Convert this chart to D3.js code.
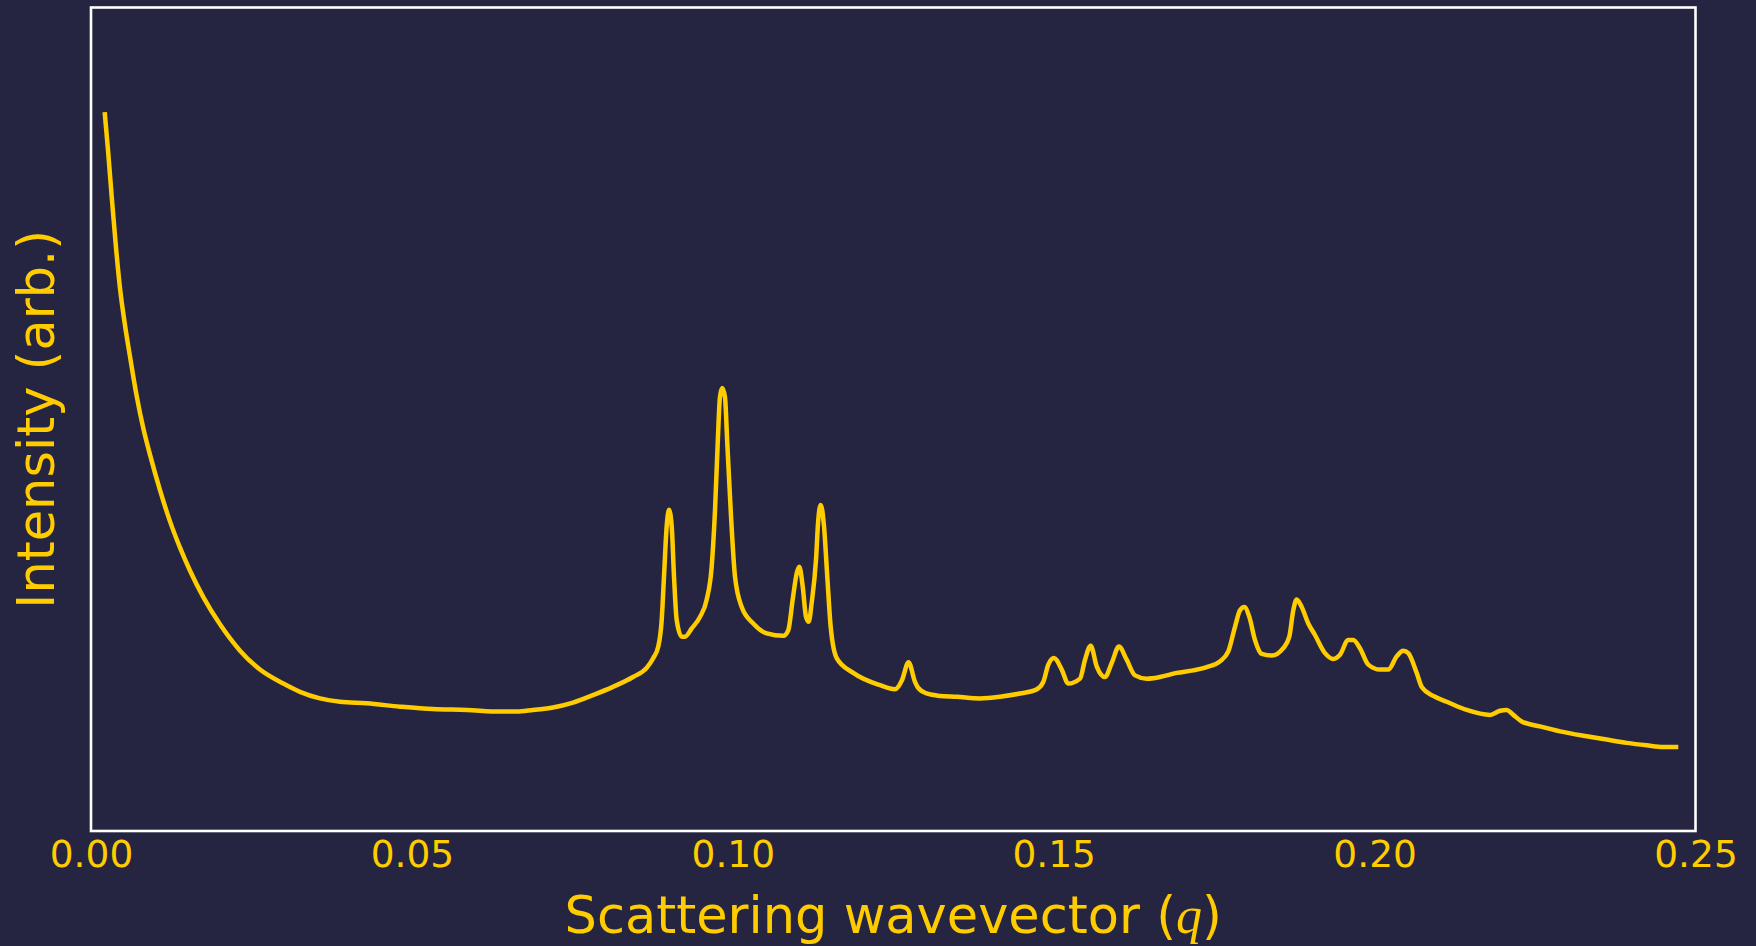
<!DOCTYPE html>
<html>
<head>
<meta charset="utf-8">
<script src="https://cdn.jsdelivr.net/npm/d3@7"></script>
<style>
  html, body { margin: 0; padding: 0; background: #252542; }
  svg { display: block; }
</style>
</head>
<body>
<svg id="chart" width="1756" height="946"></svg>
<script>
// Scattering wavevector q
const qValues = [
  0.00213, 0.00265, 0.00327, 0.00390, 0.00452, 0.00530, 0.00608, 0.00712, 0.00815, 0.00919,
  0.01075, 0.01231, 0.01387, 0.01543, 0.01750, 0.02010, 0.02322, 0.02633, 0.02996, 0.03256,
  0.03568, 0.03880, 0.04296, 0.04815, 0.05329, 0.05854, 0.06373, 0.06633, 0.06887, 0.07198,
  0.07510, 0.07822, 0.08133, 0.08445, 0.08658, 0.08761, 0.08839, 0.08892, 0.08928, 0.08970,
  0.09006, 0.09048, 0.09084, 0.09126, 0.09204, 0.09255, 0.09360, 0.09489, 0.09593, 0.09671,
  0.09723, 0.09765, 0.09800, 0.09836, 0.09878, 0.09914, 0.09967, 0.10034, 0.10139, 0.10319,
  0.10528, 0.10787, 0.10865, 0.10933, 0.10996, 0.11036, 0.11089, 0.11141, 0.11183, 0.11229,
  0.11296, 0.11332, 0.11370, 0.11421, 0.11472, 0.11525, 0.11619, 0.11877, 0.12294, 0.12527,
  0.12636, 0.12738, 0.12839, 0.12886, 0.13021, 0.13228, 0.13488, 0.13852, 0.14163, 0.14475,
  0.14735, 0.14838, 0.14916, 0.15005, 0.15125, 0.15227, 0.15410, 0.15488, 0.15576, 0.15670,
  0.15799, 0.15904, 0.16017, 0.16137, 0.16267, 0.16449, 0.16656, 0.16916, 0.17175, 0.17384,
  0.17591, 0.17720, 0.17825, 0.17903, 0.17970, 0.18048, 0.18136, 0.18241, 0.18397, 0.18577,
  0.18671, 0.18733, 0.18786, 0.18864, 0.18967, 0.19071, 0.19227, 0.19356, 0.19461, 0.19590,
  0.19668, 0.19772, 0.19902, 0.20084, 0.20213, 0.20344, 0.20447, 0.20525, 0.20656, 0.20734,
  0.20914, 0.21123, 0.21435, 0.21798, 0.21954, 0.22058, 0.22161, 0.22292, 0.22577, 0.22889,
  0.23305, 0.23616, 0.23928, 0.24240, 0.24498, 0.24732
];

// Intensity (arbitrary units)
const intensityValues = [
  87.3, 82.7, 76.6, 70.8, 65.9, 61.4, 57.6, 52.8, 48.9, 45.7,
  41.4, 37.6, 34.4, 31.6, 28.4, 25.1, 21.9, 19.6, 17.9, 16.9,
  16.1, 15.7, 15.5, 15.1, 14.8, 14.7, 14.5, 14.5, 14.7, 15.0,
  15.6, 16.5, 17.5, 18.7, 19.8, 21.0, 22.4, 25.6, 30.9, 37.0,
  39.0, 37.0, 30.9, 25.6, 23.6, 23.6, 24.6, 26.0, 28.1, 32.1,
  39.0, 47.1, 52.7, 53.8, 52.7, 47.1, 39.0, 30.9, 27.2, 25.2,
  24.0, 23.7, 24.4, 28.1, 31.3, 32.1, 29.7, 26.0, 25.4, 27.7,
  32.9, 37.8, 39.6, 37.0, 30.9, 24.8, 21.0, 19.2, 17.7, 17.2,
  18.3, 20.5, 18.1, 17.4, 16.7, 16.4, 16.3, 16.1, 16.3, 16.7,
  17.2, 18.1, 20.2, 21.0, 19.6, 17.9, 18.5, 20.8, 22.5, 20.0,
  18.7, 20.4, 22.4, 20.8, 18.9, 18.5, 18.7, 19.2, 19.5, 19.9,
  20.6, 21.8, 24.8, 26.8, 27.2, 26.0, 23.2, 21.5, 21.3, 22.2,
  23.6, 26.8, 28.1, 27.2, 25.2, 23.8, 21.6, 20.9, 21.4, 23.2,
  23.2, 22.2, 20.2, 19.6, 19.6, 21.2, 21.9, 21.6, 19.2, 17.5,
  16.4, 15.7, 14.7, 14.1, 14.6, 14.7, 14.1, 13.3, 12.7, 12.1,
  11.5, 11.1, 10.7, 10.4, 10.2, 10.2
];

const xTickValues = [0, 0.05, 0.10, 0.15, 0.20, 0.25];
const xLabelText = "Scattering wavevector (";
const xLabelMath = "q";
const yLabelText = "Intensity (arb.)";

(function () {
  const data = qValues.map((q, i) => ({ q, v: intensityValues[i] }));

  const svg = d3.select("#chart");
  const plotLeft = 91, plotRight = 1695.5, plotTop = 7.5, plotBottom = 831;
  const gold = "#FFCC00";
  const font = "'DejaVu Sans', sans-serif";

  const x = d3.scaleLinear().domain([0, 0.25]).range([plotLeft, plotRight]);
  const y = d3.scaleLinear().domain([0, 100]).range([plotBottom, plotTop]);

  svg.append("rect").attr("x", 0).attr("y", 0).attr("width", 1756).attr("height", 946).attr("fill", "#252542");

  const line = d3.line()
    .x(d => x(d.q))
    .y(d => y(d.v))
    .curve(d3.curveMonotoneX);

  svg.append("path")
    .datum(data)
    .attr("d", line)
    .attr("fill", "none")
    .attr("stroke", gold)
    .attr("stroke-width", 4.5)
    .attr("stroke-linejoin", "round")
    .attr("stroke-linecap", "butt");

  svg.append("rect")
    .attr("x", plotLeft).attr("y", plotTop)
    .attr("width", plotRight - plotLeft).attr("height", plotBottom - plotTop)
    .attr("fill", "none")
    .attr("stroke", "#ffffff")
    .attr("stroke-width", 2.6);

  const xAxis = d3.axisBottom(x)
    .tickValues(xTickValues)
    .tickFormat(d3.format(".2f"))
    .tickSize(0)
    .tickPadding(10);

  const gx = svg.append("g").attr("transform", `translate(0,${plotBottom})`).call(xAxis);
  gx.select(".domain").remove();
  gx.selectAll("text")
    .attr("fill", gold)
    .attr("font-family", font)
    .attr("font-size", "37.5px")
    .attr("dy", null)
    .attr("y", 36);

  const xl = svg.append("text")
    .attr("x", (plotLeft + plotRight) / 2)
    .attr("y", 933)
    .attr("text-anchor", "middle")
    .attr("fill", gold)
    .attr("font-family", font)
    .attr("font-size", "51px");
  xl.append("tspan").text(xLabelText);
  xl.append("tspan")
    .attr("font-family", "'Liberation Serif', 'DejaVu Serif', serif")
    .attr("font-style", "italic")
    .attr("font-size", "52px")
    .text(xLabelMath);
  xl.append("tspan").text(")");

  svg.append("text")
    .attr("transform", `translate(54,${(plotTop + plotBottom) / 2}) rotate(-90)`)
    .attr("text-anchor", "middle")
    .attr("fill", gold)
    .attr("font-family", font)
    .attr("font-size", "51px")
    .text(yLabelText);
})();
</script>
</body>
</html>
